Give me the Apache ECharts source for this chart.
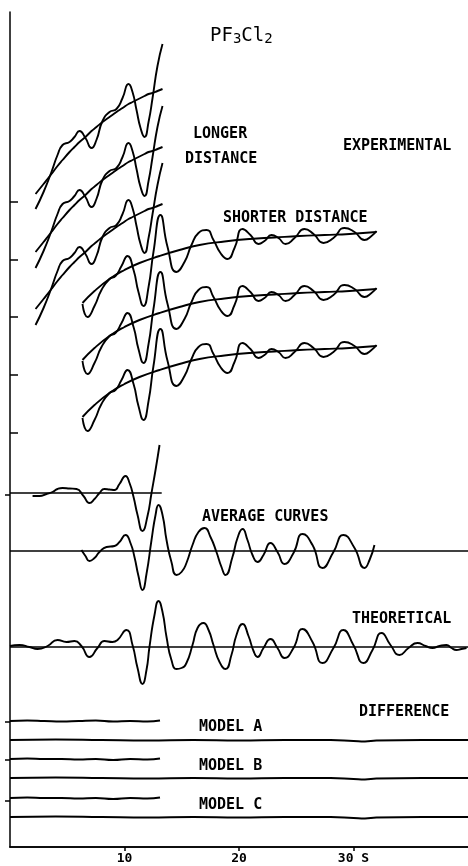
<!DOCTYPE html>
<html><head><meta charset="utf-8">
<script src="https://cdn.jsdelivr.net/npm/echarts@6/dist/echarts.min.js"></script>
<style>html,body{margin:0;padding:0;background:#fff}#c{width:468px;height:866px}</style>
</head><body><div id="c"></div>
<script>
// x: s (scattering variable), y: plot units (vertical stacking of curves)
const xTicks = [10, 20, 30];
const leftTicks = [414, 472, 530, 587, 645];
const rightTicks = [46, 87, 125, 352];

// Experimental, longer distance
const sLong = [2.23,2.93,3.62,4.15,4.59,5.20,5.63,6.07,6.59,7.12,7.55,8.08,8.69,9.30,9.83,10.35,10.70,11.05,11.40,11.75,12.10,12.45,12.88,13.32];
const long1 = [638,655,675,692,702,705,710,716,709,699,707,726,735,738,749,763,755,737,719,710,725,749,781,803];
const long2 = [579,596,616,633,643,646,651,657,650,640,648,667,676,679,690,704,696,678,660,651,666,690,720,741];
const long3 = [522,539,559,576,586,589,594,600,593,583,591,610,619,622,633,647,639,621,603,594,609,633,662,684];
const bgLong1 = [653,663,673,681,687,695,700,705,710,716,720,725,730,735,739,743,745,747,749,751,753,754,756,758];
const bgLong2 = [595,605,615,623,629,637,642,647,652,658,662,667,672,677,681,685,687,689,691,693,695,696,698,700];
const bgLong3 = [538,548,558,566,572,580,585,590,595,601,605,610,615,620,624,628,630,632,634,636,638,639,641,643];

// Experimental, shorter distance
const sShort = [6.33,6.77,7.38,7.99,8.69,9.21,9.74,10.26,10.79,11.22,11.66,12.10,12.53,13.14,13.76,14.54,15.24,15.85,16.46,17.16,17.77,18.38,19.00,19.61,20.31,21.00,21.70,22.23,22.84,23.45,24.06,24.85,25.72,26.51,27.38,28.25,29.21,30.09,30.96,31.57,32.01];
const short1 = [543,530,541,557,568,571,581,591,577,555,541,560,595,632,600,575,585,602,614,617,607,594,588,599,618,612,603,606,612,609,603,609,618,613,604,609,619,615,607,611,616];
const short2 = [486,473,484,500,511,514,524,534,520,498,484,503,538,575,543,518,528,545,557,560,550,537,531,542,561,555,546,549,555,552,546,552,561,556,547,552,562,558,550,554,559];
const short3 = [429,416,427,443,454,457,467,477,463,441,427,446,481,518,486,461,471,488,500,503,493,480,474,485,504,498,489,492,498,495,489,495,504,499,490,495,505,501,493,497,502];
const sShortBg = [6.33,7.38,8.69,10.0,11.31,13.06,14.80,16.55,18.73,20.92,23.1,25.28,27.47,29.65,32.01];
const bgShort1 = [544,556,568,577,584,591,597,602,605.5,608,609.5,611,612,613,615];
const bgShort2 = [487,499,511,520,527,534,540,545,548.5,551,552.5,554,555,556,558];
const bgShort3 = [430,442,454,463,470,477,483,488,491.5,494,495.5,497,498,499,501];

// Average curves
const sAvgLong = [1.97,2.58,3.19,3.71,4.15,4.59,5.20,5.81,6.42,6.94,7.38,7.82,8.25,8.69,9.13,9.56,10.09,10.44,10.79,11.14,11.57,12.01,12.36,12.71,13.06];
const avgLong = [351,351,353,355,358,359,358.5,358,351,344,348,354,358,357.5,357,363,371,364,350,332,316,331,354,377,402];
const avgLongBase = [[0,354],[13.25,354]];
const sAvgShort = [6.24,6.59,6.94,7.38,7.82,8.43,9.13,9.56,10.09,10.52,10.87,11.22,11.57,11.92,12.36,12.71,12.97,13.32,13.67,14.10,14.54,14.98,15.41,15.94,16.46,16.99,17.51,18.03,18.47,18.82,19.43,19.87,20.31,20.74,21.18,21.62,22.14,22.75,23.36,23.97,24.76,25.55,26.42,27.29,28.25,29.12,30.09,30.96,31.40,31.83];
const avgShort = [297,291,286,289,295,300,301,305,312,304,290,271,257,273,307,332,342,332,307,285,272,275,284,302,315,319,310,295,280,272,290,309,318,307,292,285,292,304,295,283,294,313,302,279,295,312,299,279,287,302];
const avgShortBase = [[0,296],[40,296]];

// Theoretical
const sTheory = [0,0.83,1.70,2.40,3.28,4.15,4.93,5.63,6.24,6.94,7.64,8.25,8.95,9.39,10.17,10.70,11.14,11.57,11.92,12.18,12.62,12.97,13.32,13.67,14.10,14.54,14.98,15.41,15.94,16.38,16.90,17.34,17.77,18.30,18.82,19.34,19.78,20.31,20.83,21.27,21.62,22.14,22.75,23.36,23.97,24.76,25.55,26.42,27.29,28.25,29.12,29.99,30.87,31.66,32.45,33.23,34.02,34.80,35.59,36.29,36.90,37.51,38.12,38.56,38.99,39.43,39.87];
const theory = [201,202,200,198,201,207,205,206,201,190,199,206,205,207,217,202,179,163,177,200,232,246,235,210,187,178,179,184,202,219,224,217,202,185,178,192,212,223,211,196,190,199,208,199,189,199,218,205,184,199,217,202,184,197,214,202,192,199,204,201,199,201,202,199,197,198,199];
const theoryBase = [[0,200],[40,200]];

// Difference curves (models A, B, C)
const sDiffShort = [0,1.5,3,4.5,6,7.5,9,10.5,12,13.1];
const diffShortA = [126,126.5,126,125.5,126,126.5,125.5,126,125.5,126.5];
const diffShortB = [88,88.5,88,88,87.5,88,87,88,87.5,88.5];
const diffShortC = [49,49.5,49,49,48.5,49,48,49,48.5,49.5];
const sDiffLong = [0,4,8,12,16,20,24,28,30,31,32,36,40];
const diffLongA = [107,107.5,107,106.5,107,106.5,107,107,106,105.5,106.5,107,107];
const diffLongB = [69,69.5,69,68.5,69,68.5,69,69,68,67.5,68.5,69,69];
const diffLongC = [30,30.5,30,29.5,30,29.5,30,30,29,28.5,29.5,30,30];

const zip = (xs, ys) => xs.map((x, i) => [x, ys[i]]);
const mk = (data, smooth, w) => ({
  type: 'line', data: data, symbol: 'none', showSymbol: false, smooth: smooth,
  lineStyle: { color: '#000', width: w || 1.9 }, silent: true
});

const sm = 0.55;
const series = [
  mk(zip(sLong, bgLong1), 0.5), mk(zip(sLong, long1), sm),
  mk(zip(sLong, bgLong2), 0.5), mk(zip(sLong, long2), sm),
  mk(zip(sLong, bgLong3), 0.5), mk(zip(sLong, long3), sm),
  mk(zip(sShortBg, bgShort1), 0.5), mk(zip(sShort, short1), sm),
  mk(zip(sShortBg, bgShort2), 0.5), mk(zip(sShort, short2), sm),
  mk(zip(sShortBg, bgShort3), 0.5), mk(zip(sShort, short3), sm),
  mk(avgLongBase, false, 1.6), mk(zip(sAvgLong, avgLong), sm),
  mk(avgShortBase, false, 1.6), mk(zip(sAvgShort, avgShort), sm),
  mk(theoryBase, false, 1.6), mk(zip(sTheory, theory), sm),
  mk(zip(sDiffShort, diffShortA), 0.5, 2), mk(zip(sDiffLong, diffLongA), 0.5, 2),
  mk(zip(sDiffShort, diffShortB), 0.5, 2), mk(zip(sDiffLong, diffLongB), 0.5, 2),
  mk(zip(sDiffShort, diffShortC), 0.5, 2), mk(zip(sDiffLong, diffLongC), 0.5, 2)
];

const mono = '"DejaVu Sans Mono", "Liberation Mono", monospace';
const label = (text, x, y) => ({
  type: 'text', x: x, y: y, silent: true,
  style: { text: text, font: 'bold 15px ' + mono, fill: '#000', textVerticalAlign: 'middle' }
});

const chart = echarts.init(document.getElementById('c'), null, { renderer: 'canvas' });
chart.setOption({
  animation: false,
  backgroundColor: '#fff',
  grid: { left: 10, right: 0, top: 12, bottom: 19 },
  title: {
    left: 210, top: 27, padding: 0,
    text: '{m|PF}{s|3}{m|Cl}{s|2}',
    textStyle: {
      fontWeight: 'normal',
      rich: {
        m: { fontFamily: mono, fontSize: 19, fontWeight: 'normal', lineHeight: 19, verticalAlign: 'top', color: '#000' },
        s: { fontFamily: mono, fontSize: 14, fontWeight: 'normal', lineHeight: 14, verticalAlign: 'bottom', padding: [10, 0, 0, 0], color: '#000' }
      }
    }
  },
  xAxis: [
    { type: 'value', min: 0, max: 40, position: 'bottom',
      axisLine: { show: true, lineStyle: { color: '#000', width: 1.5 } },
      axisTick: { show: true, customValues: xTicks, length: 4, lineStyle: { color: '#000', width: 1.5 } },
      axisLabel: { customValues: xTicks, formatter: v => (v === 30 ? '30 S' : String(v)), color: '#000', fontFamily: mono, fontWeight: 'bold', fontSize: 13, margin: 5 },
      splitLine: { show: false } },
    { type: 'value', min: 0, max: 40, position: 'top',
      axisLine: { show: true, lineStyle: { color: '#000', width: 1.5 } },
      axisTick: { show: false }, axisLabel: { show: false }, splitLine: { show: false } }
  ],
  yAxis: [
    { type: 'value', min: 0, max: 835, position: 'left',
      axisLine: { show: true, lineStyle: { color: '#000', width: 1.5 } },
      axisTick: { show: true, inside: true, length: 8, customValues: leftTicks, lineStyle: { color: '#000', width: 1.5 } },
      axisLabel: { show: false }, splitLine: { show: false } },
    { type: 'value', min: 0, max: 835, position: 'right',
      axisLine: { show: false },
      axisTick: { show: true, inside: true, length: 5, customValues: rightTicks, lineStyle: { color: '#000', width: 1.5 } },
      axisLabel: { show: false }, splitLine: { show: false } }
  ],
  graphic: [
    label('LONGER', 193, 134),
    label('DISTANCE', 185, 159),
    label('EXPERIMENTAL', 343, 146),
    label('SHORTER DISTANCE', 223, 218),
    label('AVERAGE CURVES', 202, 517),
    label('THEORETICAL', 352, 619),
    label('DIFFERENCE', 359, 712),
    label('MODEL A', 199, 727),
    label('MODEL B', 199, 766),
    label('MODEL C', 199, 805)
  ],
  series: series
});
</script>
</body></html>
